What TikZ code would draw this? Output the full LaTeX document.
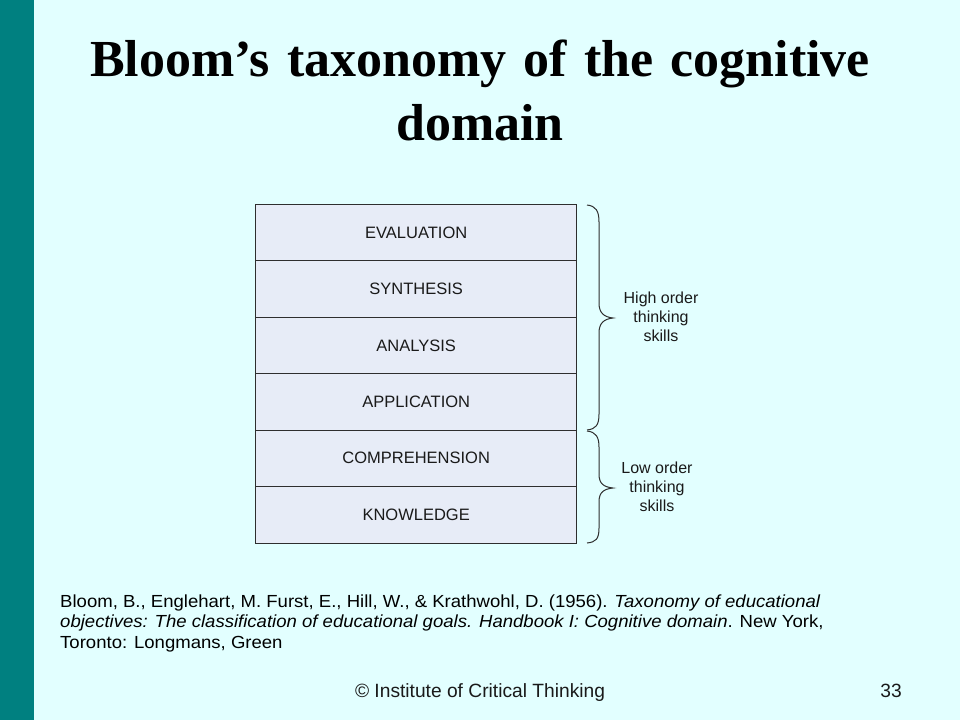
\documentclass[tikz,border=0pt]{standalone}
\usepackage{fontspec}
\setmainfont{Liberation Sans}
\newfontfamily\titleserif{Liberation Serif}
\newfontfamily\citefont[FakeStretch=1.06]{Liberation Sans}
\newcommand\citesetup{\citefont\fontsize{17.5}{20.5}\selectfont\lineskiplimit=-20pt\relax}
\definecolor{bgcyan}{HTML}{E2FFFF}
\definecolor{tealbar}{HTML}{008080}
\definecolor{boxfill}{HTML}{E7ECF7}
\definecolor{boxline}{HTML}{2E2E2E}
\definecolor{inktext}{HTML}{1A1A1A}
\tikzset{
  layerbox/.style={draw=boxline, line width=1pt, fill=boxfill, minimum width=321pt, minimum height=56.45pt, inner sep=0pt, text=inktext, font=\fontsize{16.5}{19}\selectfont},
  bracepath/.style={draw=boxline, line width=1pt},
  bracelabel/.style={align=center, text=inktext, font=\fontsize{16}{19.2}\selectfont, inner sep=0pt},
  titletext/.style={anchor=base, inner sep=0pt, font=\titleserif\bfseries\fontsize{52}{63}\selectfont},
  citetext/.style={anchor=north west, align=left, inner sep=0pt, text=black, font=\citesetup},
  footertext/.style={inner sep=0pt, text=inktext, font=\fontsize{19.2}{23}\selectfont}
}
\begin{document}
\begin{tikzpicture}[x=1pt, y=-1pt]
\useasboundingbox (0,0) rectangle (960,720);
\fill[bgcyan] (0,0) rectangle (960,720);
\fill[tealbar] (0,0) rectangle (34,720);
% title
\node[titletext] (title1) at (480,76.7) {\makebox[780pt][s]{Bloom’s taxonomy of the cognitive}};
\node[titletext] (title2) at (480,140) {domain};
% layers
\node[layerbox] (eval)  at (416.2,232.5) {EVALUATION};
\node[layerbox] (synth) at (416.2,289.0) {SYNTHESIS};
\node[layerbox] (anal)  at (416.2,345.4) {ANALYSIS};
\node[layerbox] (appl)  at (416.2,401.9) {APPLICATION};
\node[layerbox] (comp)  at (416.2,458.3) {COMPREHENSION};
\node[layerbox] (know)  at (416.2,514.8) {KNOWLEDGE};
% braces
\draw[bracepath] (587,205) .. controls (596,206) and (599,211) .. (599,222) -- (599,303) .. controls (599,313) and (604,317) .. (613,318) .. controls (604,319) and (599,323) .. (599,333) -- (599,414) .. controls (599,425) and (596,429) .. (587,430);
\draw[bracepath] (587,431) .. controls (596,432) and (599,437) .. (599,447) -- (599,474) .. controls (599,484) and (604,487) .. (613,488) .. controls (604,489) and (599,492) .. (599,502) -- (599,528) .. controls (599,539) and (596,542) .. (587,543);
\node[bracelabel] (high) at (661,317) {High order\\thinking\\skills};
\node[bracelabel] (low) at (657,487) {Low order\\thinking\\skills};
% citation
\node[citetext] (cite) at (60,594.5) {Bloom, B., Englehart, M. Furst, E., Hill, W., \& Krathwohl, D. (1956). \textit{Taxonomy of educational}\\\textit{objectives: The classification of educational goals. Handbook I: Cognitive domain}. New York,\\Toronto: Longmans, Green};
% footer
\node[footertext, anchor=base] (foot) at (480,697) {© Institute of Critical Thinking};
\node[footertext, anchor=base east] (pagenum) at (902,697) {33};
\end{tikzpicture}
\end{document}
